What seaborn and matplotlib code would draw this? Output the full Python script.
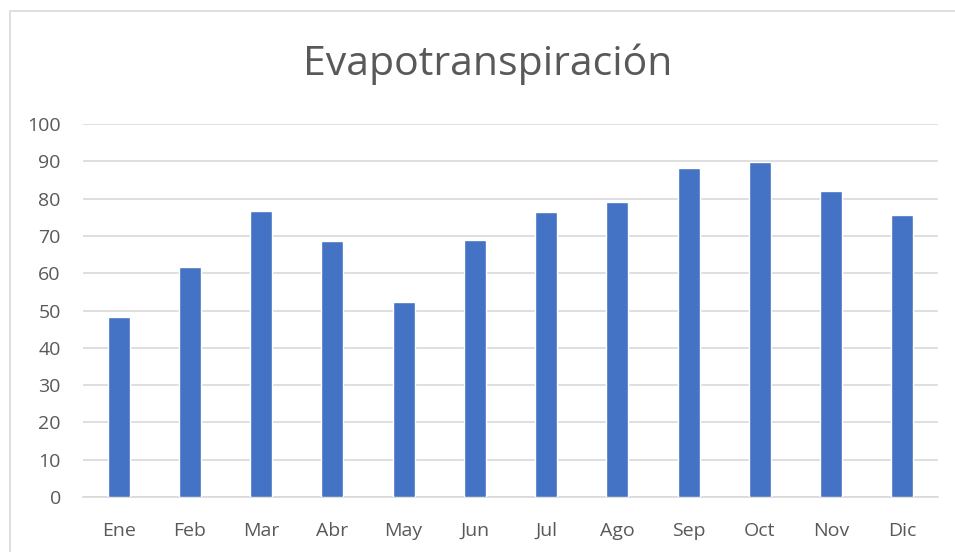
import numpy as np
import pandas as pd
import matplotlib
matplotlib.use('Agg')
import matplotlib.pyplot as plt
import seaborn as sns
from matplotlib.patches import Rectangle

meses = ['Ene', 'Feb', 'Mar', 'Abr', 'May', 'Jun', 'Jul', 'Ago', 'Sep', 'Oct', 'Nov', 'Dic']
evapo = [48.2, 61.6, 76.8, 68.6, 52.3, 69.0, 76.4, 79.2, 88.1, 89.7, 82.1, 75.5]
y_ticks = [0, 10, 20, 30, 40, 50, 60, 70, 80, 90, 100]

df = pd.DataFrame({'mes': meses, 'valor': evapo})

sns.set_style('white')
plt.rcParams['font.family'] = ['Open Sans', 'DejaVu Sans']
texto = '#595959'

fig = plt.figure(figsize=(9.55, 5.52), dpi=100)
ax = fig.add_axes([0.0869, 0.0996, 0.8953, 0.6757])

sns.barplot(data=df, x='mes', y='valor', color='#4472C4', width=0.31,
            saturation=1, ax=ax, zorder=3)

ax.set_xlim(-0.5, len(meses) - 0.5)
ax.set_ylim(0, 100)
ax.set_yticks(y_ticks)
ax.yaxis.grid(True, color='#d9d9d9', linewidth=1.2, zorder=0)
ax.set_axisbelow(True)
for s in ['top', 'right', 'left']:
    ax.spines[s].set_visible(False)
ax.spines['bottom'].set_color('#d9d9d9')
ax.spines['bottom'].set_linewidth(1.2)
ax.tick_params(axis='both', length=0, labelsize=14, colors=texto)
ax.tick_params(axis='x', pad=18)
ax.tick_params(axis='y', pad=16)
ax.set_xlabel('')
ax.set_ylabel('')

fig.text(0.511, 0.883, 'Evapotranspiración', ha='center', va='center',
         fontsize=29.5, color=texto)

# marco gris del gráfico (borde izquierdo y superior visibles)
fig.patches.append(Rectangle((10 / 955, -0.05), 1.0, 1.05 - 11 / 552,
                             transform=fig.transFigure, fill=False,
                             edgecolor='#d9d9d9', linewidth=1.2))

fig.savefig('out.png', dpi=100)
